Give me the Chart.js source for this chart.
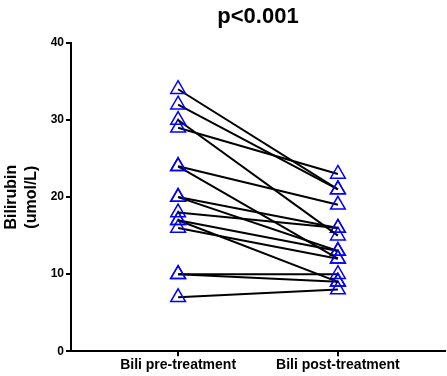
<!DOCTYPE html>
<html>
<head>
<meta charset="utf-8">
<script src="https://cdn.jsdelivr.net/npm/chart.js@4.4.1/dist/chart.umd.min.js"></script>
<style>
html,body{margin:0;padding:0;background:#fff;}
#wrap{width:447px;height:376px;position:relative;}
</style>
</head>
<body>
<div id="wrap"><canvas id="c" width="447" height="376"></canvas></div>
<script>
const categories = ['Bili pre-treatment', 'Bili post-treatment'];
const preValues  = [34, 32, 30, 29, 24, 24, 20, 20, 18, 17, 17, 16, 10, 10, 7];
const postValues = [21, 21, 15, 23, 19, 12, 16, 13, 16, 13, 9, 12, 10, 9, 8];
const yTicks = [0, 10, 20, 30, 40];
const titleText = 'p<0.001';
const yTitle = ['Bilirubin', '(umol/L)'];
const FONT = 'Liberation Sans, Arial, sans-serif';

const datasets = preValues.map((p, i) => ({
  data: [{x: 0, y: p}, {x: 1, y: postValues[i]}],
  borderColor: '#000',
  borderWidth: 2,
  pointStyle: 'triangle',
  pointRadius: 8.5,
  pointBorderColor: '#0000ff',
  pointBackgroundColor: 'rgba(255,255,255,0)',
  pointBorderWidth: 1.5,
  showLine: true,
  fill: false,
  tension: 0
}));

const titlePlugin = {
  id: 'centeredTitle',
  afterDraw(chart) {
    const {ctx, chartArea} = chart;
    ctx.save();
    ctx.fillStyle = '#000';
    ctx.font = 'bold 22px ' + FONT;
    ctx.textAlign = 'center';
    ctx.textBaseline = 'middle';
    ctx.fillText(titleText, (chartArea.left + chartArea.right) / 2, 17);
    ctx.restore();
  }
};

new Chart(document.getElementById('c'), {
  type: 'scatter',
  data: { datasets },
  plugins: [titlePlugin],
  options: {
    responsive: false,
    animation: false,
    layout: { autoPadding: false, padding: { left: 0, right: 2, top: 43, bottom: 1 } },
    plugins: {
      legend: { display: false },
      tooltip: { enabled: false },
      title: { display: false }
    },
    scales: {
      x: {
        type: 'linear',
        min: -0.67,
        max: 1.67,
        afterBuildTicks: axis => { axis.ticks = [{value: 0}, {value: 1}]; },
        afterFit: s => { s.paddingLeft = 0; s.paddingRight = 0; },
        ticks: {
          color: '#000',
          padding: 1,
          maxRotation: 0,
          autoSkip: false,
          font: { family: FONT, size: 14, weight: 'bold' },
          callback: v => categories[v]
        },
        grid: { display: true, drawOnChartArea: false, drawTicks: true, tickLength: 5, color: '#000', lineWidth: 2 },
        border: { display: true, color: '#000', width: 2 }
      },
      y: {
        min: 0,
        max: 40,
        afterBuildTicks: axis => { axis.ticks = yTicks.map(v => ({value: v})); },
        afterFit: s => { s.width = 71; s.paddingTop = 0; s.paddingBottom = 0; },
        ticks: {
          color: '#000',
          padding: 2,
          font: { family: FONT, size: 12, weight: 'bold' }
        },
        title: {
          display: true,
          text: yTitle,
          color: '#000',
          padding: { top: 2, bottom: 0 },
          font: { family: FONT, size: 16, weight: 'bold', lineHeight: 1.25 }
        },
        grid: { display: true, drawOnChartArea: false, drawTicks: true, tickLength: 5, color: '#000', lineWidth: 2 },
        border: { display: true, color: '#000', width: 2 }
      }
    }
  }
});
</script>
</body>
</html>
